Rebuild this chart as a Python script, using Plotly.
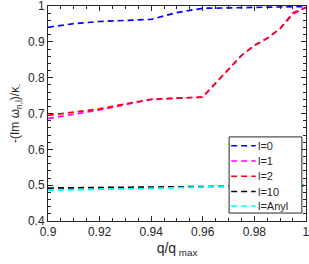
import plotly.graph_objects as go

# data
q_l0 = [0.90, 0.905, 0.91, 0.92, 0.93, 0.94, 0.95, 0.96, 0.97, 0.98, 0.99, 1.00]
v_l0 = [0.941, 0.946, 0.951, 0.957, 0.959, 0.963, 0.982, 0.994, 0.995, 0.996, 0.997, 0.999]

q_l1 = [0.90, 0.91, 0.92, 0.93, 0.94, 0.95, 0.96, 0.965, 0.97, 0.975, 0.98, 0.985, 0.99, 0.995, 1.00]
v_l1 = [0.686, 0.698, 0.710, 0.725, 0.739, 0.743, 0.746, 0.785, 0.825, 0.862, 0.890, 0.910, 0.937, 0.982, 0.995]

q_l2 = [0.90, 0.91, 0.92, 0.93, 0.94, 0.95, 0.96, 0.965, 0.97, 0.975, 0.98, 0.985, 0.99, 0.995, 1.00]
v_l2 = [0.695, 0.704, 0.713, 0.727, 0.740, 0.743, 0.746, 0.785, 0.825, 0.862, 0.890, 0.910, 0.937, 0.978, 0.997]

q_l10 = [0.90, 0.92, 0.94, 0.96, 0.98, 1.00]
v_l10 = [0.492, 0.493, 0.494, 0.496, 0.498, 0.499]

q_any = [0.90, 0.92, 0.94, 0.96, 0.98, 1.00]
v_any = [0.486, 0.488, 0.491, 0.495, 0.498, 0.499]

names = ["l=0", "l=1", "l=2", "l=10", "l=Anyl"]
colors = ["#0000ff", "#ff00ff", "#ff0000", "#000000", "#00ffff"]
xs = [q_l0, q_l1, q_l2, q_l10, q_any]
ys = [v_l0, v_l1, v_l2, v_l10, v_any]

x_ticks = [0.9, 0.92, 0.94, 0.96, 0.98, 1.0]
x_labels = ["0.9", "0.92", "0.94", "0.96", "0.98", "1"]
y_ticks = [0.4, 0.5, 0.6, 0.7, 0.8, 0.9, 1.0]
y_labels = ["0.4", "0.5", "0.6", "0.7", "0.8", "0.9", "1"]

DASH = "6px,4px"
fig = go.Figure()
for x, y, n, c in zip(xs, ys, names, colors):
    fig.add_trace(go.Scatter(x=x, y=y, name=n, mode="lines", showlegend=False,
                             line=dict(color=c, width=1.7, dash=DASH)))

font = dict(family="Liberation Sans, Arial, sans-serif", size=12, color="#262626")
axcommon = dict(showgrid=False, zeroline=False, showline=True, linecolor="#262626",
                linewidth=1, mirror="allticks", ticks="inside", ticklen=5,
                tickcolor="#262626", tickfont=font, automargin=False,
                ticklabeloverflow="allow")

# custom compact legend (box, dashed samples, labels) in plot-area paper coords
leg_x0, leg_x1, leg_y0, leg_y1 = 0.702, 0.984, 0.037, 0.391
row_y = [0.350, 0.279, 0.208, 0.137, 0.070]
shapes = [dict(type="rect", xref="paper", yref="paper", x0=leg_x0, x1=leg_x1,
               y0=leg_y0, y1=leg_y1, fillcolor="white",
               line=dict(color="#262626", width=1), layer="above")]
annotations = []
for n, c, ry in zip(names, colors, row_y):
    shapes.append(dict(type="line", xref="paper", yref="paper", x0=0.710, x1=0.805,
                       y0=ry, y1=ry, line=dict(color=c, width=1.6, dash=DASH), layer="above"))
    annotations.append(dict(xref="paper", yref="paper", x=0.808, y=ry, text=n,
                            showarrow=False, xanchor="left", yanchor="middle",
                            font=dict(family="Liberation Sans, Arial, sans-serif", size=11,
                                      color="#262626")))

fig.update_layout(
    template="none",
    width=309, height=264,
    margin=dict(l=48, r=3, t=6, b=43),
    paper_bgcolor="white", plot_bgcolor="white",
    font=font,
    showlegend=False,
    shapes=shapes, annotations=annotations,
    xaxis=dict(range=[0.9, 1.00005], tickvals=x_ticks, ticktext=x_labels,
               minor=dict(dtick=0.005, ticks="inside", ticklen=3, tickcolor="#262626"),
               title=dict(text="q/q<sub> max</sub>", font=dict(size=14), standoff=4),
               **axcommon),
    yaxis=dict(range=[0.4, 1.0003], tickvals=y_ticks, ticktext=y_labels,
               minor=dict(dtick=0.02, ticks="inside", ticklen=3, tickcolor="#262626"),
               title=dict(text="-(Im ω<sub>n,l</sub>)/κ<sub>-</sub>", font=dict(size=12), standoff=5),
               **axcommon),
)

fig.write_html("out.html", config={"displayModeBar": False},
               post_script="document.body.style.margin='0';document.body.style.overflow='hidden';")
